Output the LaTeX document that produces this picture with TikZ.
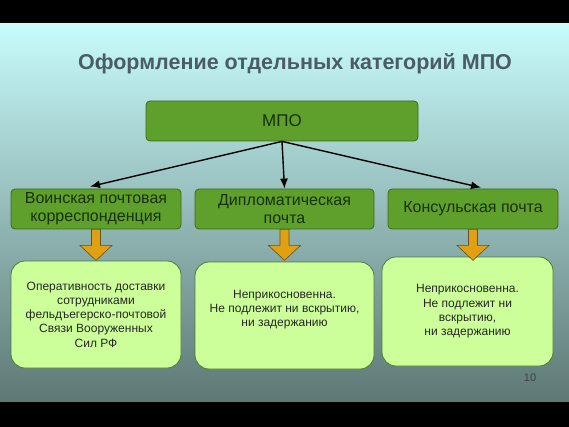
\documentclass[tikz,border=0pt]{standalone}
\usepackage{fontspec}
\setmainfont{Liberation Sans}
\usetikzlibrary{calc}
\usetikzlibrary{arrows.meta}

\definecolor{bgtop}{HTML}{C8FCFC}
\definecolor{bgmid}{HTML}{94B8B8}
\definecolor{bgbot}{HTML}{5E7874}
\definecolor{titlegray}{HTML}{4A5C64}
\definecolor{boxgreen}{HTML}{5FA02C}
\definecolor{boxedge}{HTML}{3C6A1E}
\definecolor{palegreen}{HTML}{CCFF99}
\definecolor{paleedge}{HTML}{4E7A34}
\definecolor{arrowgold}{HTML}{E0A012}
\definecolor{goldedge}{HTML}{5E5420}
\definecolor{darktext}{HTML}{17300E}

\tikzset{
  catbox/.style={draw=boxedge, fill=boxgreen, line width=0.8pt, rounded corners=4pt,
    text=darktext, align=center, font=\fontsize{16}{18}\selectfont,
    minimum height=40pt, inner sep=0pt},
  notebox/.style={draw=paleedge, fill=palegreen, line width=0.8pt, rounded corners=14pt,
    text=black!85, align=center, font=\fontsize{12}{14.3}\selectfont, inner sep=0pt},
  goldarrow/.style={draw=goldedge, fill=arrowgold, line width=0.6pt, line join=miter},
}

\begin{document}
\begin{tikzpicture}[x=1pt, y=-1pt]

    % background and black bands
    \useasboundingbox (0,0) rectangle (569,427);
    \shade[top color=bgtop, middle color=bgmid, bottom color=bgbot] (0,23) rectangle (569,402);
    \fill[black] (0,0) rectangle (569,23);
    \fill[black] (0,402) rectangle (569,427);

    \node[font=\bfseries\fontsize{21.5}{26}\selectfont, text=titlegray, anchor=base] (title) at (295,70) {Оформление отдельных категорий МПО};

    \node[catbox, minimum width=272pt, font=\fontsize{17}{20}\selectfont] (mpo) at (282,121) {МПО};
    \node[catbox, minimum width=170pt] (voin) at (96,209) {Воинская почтовая\\корреспонденция};
    \node[catbox, minimum width=179pt] (dipl) at (284.5,209) {Дипломатическая\\почта};
    \node[catbox, minimum width=170pt] (kons) at (473,209) {Консульская почта};

    \node[notebox, minimum width=170pt, minimum height=107pt] (b1) at (96,314.5)
      {Оперативность доставки\\сотрудниками\\фельдъегерско-почтовой\\Связи Вооруженных\\Сил РФ};
    \node[notebox, minimum width=179pt, minimum height=107pt, text depth=14pt] (b2) at (284.5,315.5)
      {Неприкосновенна.\\Не подлежит ни вскрытию,\\ни задержанию};
    \node[notebox, minimum width=171pt, minimum height=109pt] (b3) at (467.5,311.5)
      {Неприкосновенна.\\Не подлежит ни\\вскрытию,\\ни задержанию};

    \draw[line width=1.4pt, -{Latex[length=10pt,width=8pt]}] (mpo.south) -- ([xshift=-6pt,yshift=2pt]voin.north);
    \draw[line width=1.4pt, -{Latex[length=10pt,width=8pt]}] (mpo.south) -- (dipl.north);
    \draw[line width=1.4pt, -{Latex[length=10pt,width=8pt]}] (mpo.south) -- ([xshift=8pt,yshift=1pt]kons.north);

    \foreach \a in {voin, dipl, kons}
      \draw[goldarrow] (\a.south) ++(-4.5,0) -- ++(0,16) -- ++(-11.5,0) -- ++(16,15)
        -- ++(16,-15) -- ++(-11.5,0) -- ++(0,-16) -- cycle;

    \node[font=\fontsize{11}{13}\selectfont, text=black!75] (pnum) at (530,378) {10};

\end{tikzpicture}
\end{document}
